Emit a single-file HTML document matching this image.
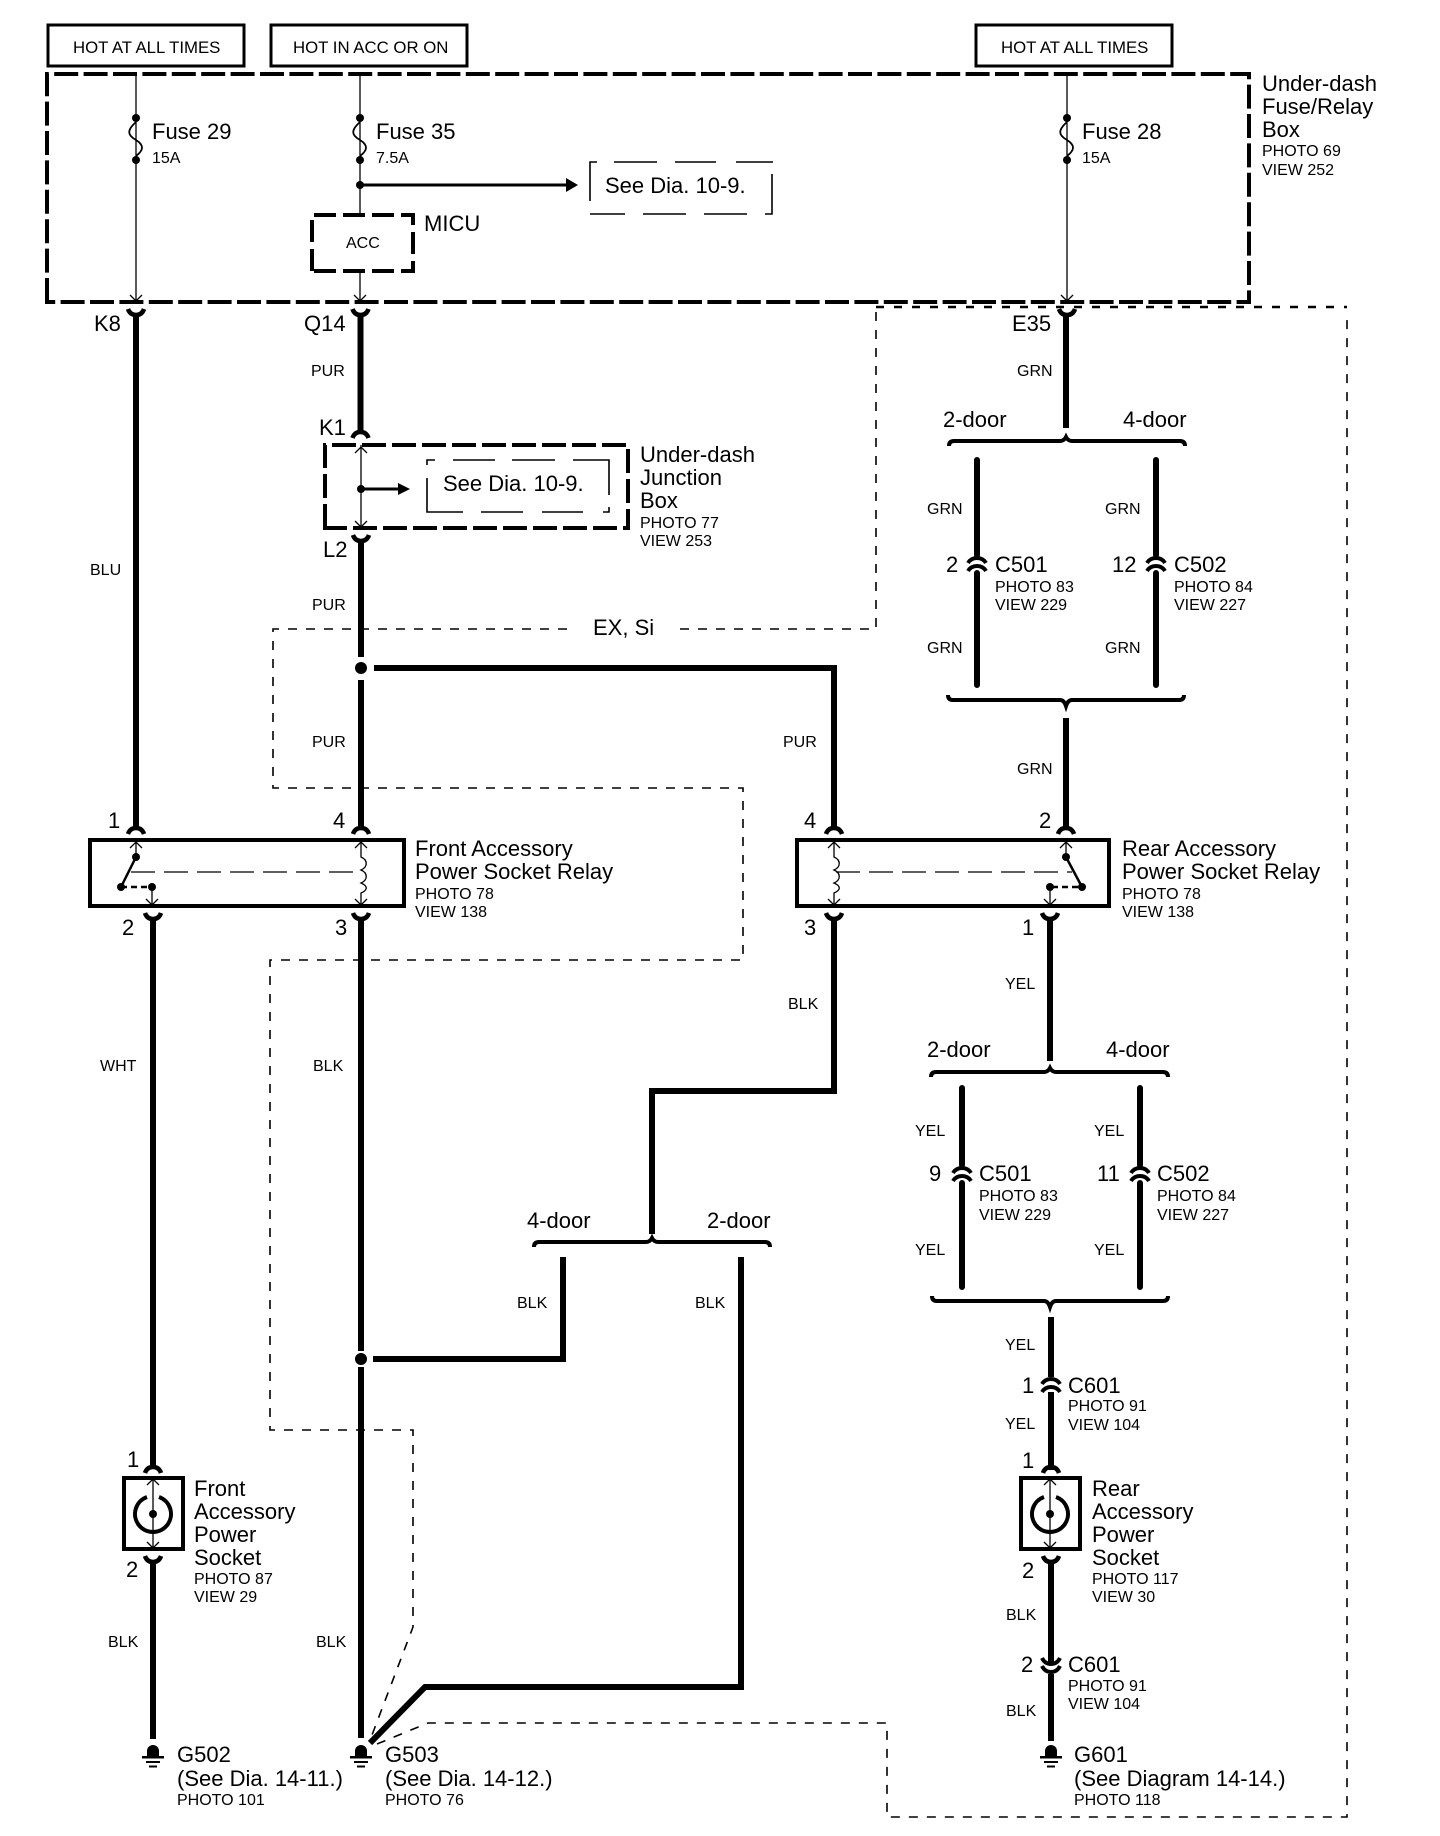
<!DOCTYPE html>
<html>
<head>
<meta charset="utf-8">
<title>Accessory Power Socket Circuit</title>
<style>
html,body{margin:0;padding:0;background:#fff;}
svg{display:block;}
text{font-family:"Liberation Sans",Arial,sans-serif;fill:#000;}
.b{font-size:22px;}
.s{font-size:16px;}
.h{font-size:16.8px;}
.w{fill:none;stroke:#000;stroke-width:6;}
.t{fill:none;stroke:#000;stroke-width:1.3;}
.d{fill:none;stroke:#000;stroke-width:1.6;stroke-dasharray:9 9;}
.dt{fill:none;stroke:#000;stroke-width:2.5;stroke-dasharray:8 10;}
.sd{fill:none;stroke:#000;stroke-width:1.6;}
.o{fill:none;stroke:#000;stroke-width:4;stroke-dasharray:24 5.400;}
.br{fill:none;stroke:#000;stroke-width:4;}
</style>
</head>
<body>
<svg width="1440" height="1836" viewBox="0 0 1440 1836" xmlns="http://www.w3.org/2000/svg">
<defs>
<g id="m"><path d="M-8 7 Q-6 1 0 1 Q6 1 8 7" fill="none" stroke="#000" stroke-width="4.5"/></g>
<g id="f"><path d="M-8 0 Q-6 6 0 6 Q6 6 8 0" fill="none" stroke="#000" stroke-width="4.5"/></g>
<g id="au"><path d="M-6 7 L0 1 L6 7" fill="none" stroke="#000" stroke-width="1.3"/></g>
<g id="ad"><path d="M-6 -7 L0 -1 L6 -7" fill="none" stroke="#000" stroke-width="1.3"/></g>
<g id="fz"><circle cx="0" cy="118" r="4"/><circle cx="0" cy="160" r="4"/><path d="M0 122 C-9 130 -9 135 0 140 C8 145 8 150 0 156" fill="none" stroke="#000" stroke-width="1.8"/></g>
<g id="gnd"><path d="M-6 7 V2 A6 6 0 0 1 6 2 V7 Z"/><rect x="-11" y="7" width="22" height="2.5"/><rect x="-7" y="12" width="14" height="2"/><rect x="-4" y="16.500" width="8" height="2"/></g>
<g id="ms"><path d="M-9 -3 Q-6 -8 0 -8 Q6 -8 9 -3" fill="none" stroke="#000" stroke-width="4"/></g>
<g id="sock"><rect x="-29" y="-36" width="59" height="71" fill="#fff" stroke="#000" stroke-width="4"/><path d="M-6 -16 A18 18 0 1 0 6 -16" fill="none" stroke="#000" stroke-width="4" transform="translate(0,-1)"/><circle cx="0" cy="0" r="4"/><path d="M0 -36 V35" class="t"/><path d="M-6 -29 L0 -35 L6 -29 M-6 28 L0 34 L6 28" class="t"/></g>
</defs>

<!-- top source boxes -->
<rect x="48" y="25" width="196" height="41" fill="none" stroke="#000" stroke-width="3"/>
<rect x="271" y="25" width="196" height="41" fill="none" stroke="#000" stroke-width="3"/>
<rect x="976" y="25" width="196" height="41" fill="none" stroke="#000" stroke-width="3"/>
<text class="h" x="73" y="53">HOT AT ALL TIMES</text>
<text class="h" x="293" y="53">HOT IN ACC OR ON</text>
<text class="h" x="1001" y="53">HOT AT ALL TIMES</text>

<!-- outer fuse box -->
<path class="o" d="M47 302 V74 H1249 V302 Z"/>
<text class="b" x="1262" y="91">Under-dash</text>
<text class="b" x="1262" y="114">Fuse/Relay</text>
<text class="b" x="1262" y="137">Box</text>
<text class="s" x="1262" y="156">PHOTO 69</text>
<text class="s" x="1262" y="175">VIEW 252</text>

<!-- thin fuse wires -->
<path class="t" d="M136 74 V302 M360 74 V215 M360 271 V302 M1067 74 V302"/>
<use href="#fz" x="136" y="0"/><use href="#fz" x="360" y="0"/><use href="#fz" x="1067" y="0"/>
<use href="#ad" x="136" y="302"/><use href="#ad" x="360" y="302"/><use href="#ad" x="1067" y="302"/>
<text class="b" x="152" y="139">Fuse 29</text><text class="s" x="152" y="163">15A</text>
<text class="b" x="376" y="139">Fuse 35</text><text class="s" x="376" y="163">7.5A</text>
<text class="b" x="1082" y="139">Fuse 28</text><text class="s" x="1082" y="163">15A</text>

<!-- see dia top -->
<circle cx="360" cy="185" r="4"/>
<path d="M360 185 H568" fill="none" stroke="#000" stroke-width="3"/>
<path d="M566 178 L578 185 L566 192 Z"/>
<path class="sd" d="M590 201 V162 H597 M614 162 H657 M675 162 H716 M736 162 H773 M772 174 V214 H765 M747 214 H704 M686 214 H643 M625 214 H590"/>
<text class="b" x="605" y="193">See Dia. 10-9.</text>

<!-- MICU -->
<path d="M312 271 V215 H413 V271 Z" fill="none" stroke="#000" stroke-width="4" stroke-dasharray="22 7"/>
<text class="s" x="346" y="248">ACC</text>
<text class="b" x="424" y="231">MICU</text>

<!-- thin dashed option boxes -->
<path class="dt" d="M876 307 H1347"/>
<path class="d" d="M876 312 V629 H672 M567 629 H273 V788 H743 V960 H270 V1430 H413 V1627 L372 1735"/>
<path class="d" d="M377 1744 L428 1723 H887 V1817 H1347 V312"/>
<text class="b" x="593" y="635">EX, Si</text>

<!-- K8 wire -->
<path class="w" d="M136 314 V830"/>
<use href="#f" x="136" y="309"/>
<text class="b" x="94" y="331">K8</text>
<text class="s" x="90" y="575">BLU</text>

<!-- Q14 wire -->
<path class="w" d="M360.500 314 V434"/>
<use href="#f" x="360.500" y="309"/>
<use href="#m" x="360.500" y="431"/>
<text class="b" x="304" y="331">Q14</text>
<text class="s" x="311" y="376">PUR</text>
<text class="b" x="319" y="435">K1</text>

<!-- junction box -->
<path d="M325 528 V445 H628 V528 Z" fill="none" stroke="#000" stroke-width="4" stroke-dasharray="24 6"/>
<path class="t" d="M361 445 V528"/>
<use href="#au" x="361" y="446"/><use href="#ad" x="361" y="528"/>
<circle cx="361" cy="489" r="4"/>
<path d="M361 489 H400" fill="none" stroke="#000" stroke-width="3"/>
<path d="M398 483 L410 489 L398 495 Z"/>
<path class="sd" d="M427 465 V460 H435 M453 460 H495 M512 460 H555 M573 460 H609 V495 M609 507 V512 H603 M583 512 H542 M523 512 H481 M463 512 H427 V478"/>
<text class="b" x="443" y="491">See Dia. 10-9.</text>
<text class="b" x="640" y="462">Under-dash</text>
<text class="b" x="640" y="485">Junction</text>
<text class="b" x="640" y="508">Box</text>
<text class="s" x="640" y="528">PHOTO 77</text>
<text class="s" x="640" y="546">VIEW 253</text>

<use href="#f" x="361" y="535"/>
<text class="b" x="323" y="557">L2</text>
<path class="w" d="M361 540 V657 M361 680 V830"/>
<text class="s" x="312" y="610">PUR</text>
<circle cx="361" cy="668" r="6"/>
<path class="w" d="M374 668 H834 V830"/>
<text class="s" x="312" y="747">PUR</text>
<text class="s" x="783" y="747">PUR</text>

<!-- front relay -->
<use href="#m" x="136" y="827"/><use href="#m" x="361" y="827"/>
<text class="b" x="108" y="828">1</text><text class="b" x="333" y="828">4</text>
<rect x="90" y="840" width="314" height="66" fill="none" stroke="#000" stroke-width="4"/>
<path class="t" d="M136 840 V857 M152 887 V906 M361 840 V857 C368 860 368 867 361 870 C368 873 368 880 361 883 C368 886 368 890 361 893 V906"/>
<use href="#au" x="136" y="841"/><use href="#ad" x="152" y="906"/>
<use href="#au" x="361" y="841"/><use href="#ad" x="361" y="906"/>
<circle cx="136" cy="857" r="4"/><circle cx="121" cy="887" r="4"/><circle cx="152" cy="887" r="4"/>
<path d="M136 857 L121 887" fill="none" stroke="#000" stroke-width="2.500"/>
<path d="M121 887 H150" fill="none" stroke="#000" stroke-width="2.500" stroke-dasharray="6 4"/>
<path d="M131 872 H360" fill="none" stroke="#000" stroke-width="1.3" stroke-dasharray="24 9"/>
<use href="#f" x="153" y="913"/><use href="#f" x="361" y="913"/>
<text class="b" x="122" y="935">2</text><text class="b" x="335" y="935">3</text>
<text class="b" x="415" y="856">Front Accessory</text>
<text class="b" x="415" y="879">Power Socket Relay</text>
<text class="s" x="415" y="899">PHOTO 78</text>
<text class="s" x="415" y="917">VIEW 138</text>

<!-- rear relay -->
<use href="#m" x="834" y="827"/><use href="#m" x="1066" y="827"/>
<text class="b" x="804" y="828">4</text><text class="b" x="1039" y="828">2</text>
<rect x="797" y="840" width="312" height="66" fill="none" stroke="#000" stroke-width="4"/>
<path class="t" d="M1066 840 V857 M1050 887 V906 M834 840 V857 C841 860 841 867 834 870 C841 873 841 880 834 883 C841 886 841 890 834 893 V906"/>
<use href="#au" x="1066" y="841"/><use href="#ad" x="1050" y="906"/>
<use href="#au" x="834" y="841"/><use href="#ad" x="834" y="906"/>
<circle cx="1066" cy="857" r="4"/><circle cx="1082" cy="887" r="4"/><circle cx="1050" cy="887" r="4"/>
<path d="M1066 857 L1082 887" fill="none" stroke="#000" stroke-width="2.500"/>
<path d="M1052 887 H1082" fill="none" stroke="#000" stroke-width="2.500" stroke-dasharray="6 4"/>
<path d="M836 872 H1072" fill="none" stroke="#000" stroke-width="1.3" stroke-dasharray="24 9"/>
<use href="#f" x="834" y="913"/><use href="#f" x="1050" y="913"/>
<text class="b" x="804" y="935">3</text><text class="b" x="1022" y="935">1</text>
<text class="b" x="1122" y="856">Rear Accessory</text>
<text class="b" x="1122" y="879">Power Socket Relay</text>
<text class="s" x="1122" y="899">PHOTO 78</text>
<text class="s" x="1122" y="917">VIEW 138</text>

<!-- E35 / upper GRN -->
<use href="#f" x="1067" y="309"/>
<path class="w" d="M1066 314 V428"/>
<text class="b" x="1012" y="331">E35</text>
<text class="s" x="1017" y="376">GRN</text>
<text class="b" x="943" y="427">2-door</text>
<text class="b" x="1123" y="427">4-door</text>
<path class="br" d="M949 446 Q949 441 954 441 H1060 Q1064 441 1066 437 Q1068 441 1072 441 H1180 Q1185 441 1185 446"/>
<path class="w" stroke-linecap="round" d="M977 460 V555 M977 573 V685 M1156 460 V555 M1156 573 V685"/>
<use href="#ms" x="977" y="566"/><use href="#ms" x="1156" y="566"/>
<use href="#ms" x="977" y="574"/><use href="#ms" x="1156" y="574"/>
<text class="s" x="927" y="514">GRN</text><text class="s" x="1105" y="514">GRN</text>
<text class="s" x="927" y="653">GRN</text><text class="s" x="1105" y="653">GRN</text>
<text class="b" x="946" y="572">2</text><text class="b" x="1112" y="572">12</text>
<text class="b" x="995" y="572">C501</text><text class="s" x="995" y="592">PHOTO 83</text><text class="s" x="995" y="610">VIEW 229</text>
<text class="b" x="1174" y="572">C502</text><text class="s" x="1174" y="592">PHOTO 84</text><text class="s" x="1174" y="610">VIEW 227</text>
<path class="br" d="M948 695 Q948 700 953 700 H1060 Q1064 700 1066 706 Q1068 700 1072 700 H1179 Q1184 700 1184 695"/>
<path class="w" d="M1066 718 V830"/>
<text class="s" x="1017" y="774">GRN</text>

<!-- WHT, front socket -->
<path class="w" d="M153 918 V1468"/>
<text class="s" x="100" y="1071">WHT</text>
<use href="#m" x="153" y="1466"/>
<text class="b" x="127" y="1467">1</text>
<use href="#sock" x="153" y="1514"/>
<use href="#f" x="153" y="1556"/>
<text class="b" x="126" y="1577">2</text>
<text class="b" x="194" y="1496">Front</text>
<text class="b" x="194" y="1519">Accessory</text>
<text class="b" x="194" y="1542">Power</text>
<text class="b" x="194" y="1565">Socket</text>
<text class="s" x="194" y="1584">PHOTO 87</text>
<text class="s" x="194" y="1602">VIEW 29</text>
<path class="w" d="M153 1560 V1739"/>
<text class="s" x="108" y="1647">BLK</text>
<use href="#gnd" x="153" y="1749"/>
<text class="b" x="177" y="1762">G502</text>
<text class="b" x="177" y="1786">(See Dia. 14-11.)</text>
<text class="s" x="177" y="1805">PHOTO 101</text>

<!-- center BLK -->
<path class="w" d="M361 918 V1351 M361 1367 V1738"/>
<text class="s" x="313" y="1071">BLK</text>
<text class="s" x="316" y="1647">BLK</text>
<circle cx="361" cy="1359" r="6"/>
<path class="w" d="M373 1359 H563 V1257"/>
<path class="w" d="M741 1257 V1687 H425 L370 1743"/>
<use href="#gnd" x="361" y="1749"/>
<text class="b" x="385" y="1762">G503</text>
<text class="b" x="385" y="1786">(See Dia. 14-12.)</text>
<text class="s" x="385" y="1805">PHOTO 76</text>

<!-- rear relay pin 3 down -->
<path class="w" d="M834 918 V1091 H652 V1234"/>
<text class="s" x="788" y="1009">BLK</text>
<text class="b" x="527" y="1228">4-door</text>
<text class="b" x="707" y="1228">2-door</text>
<path class="br" d="M534 1247 Q534 1242 539 1242 H646 Q650 1242 652 1238 Q654 1242 658 1242 H765 Q770 1242 770 1247"/>
<text class="s" x="517" y="1308">BLK</text>
<text class="s" x="695" y="1308">BLK</text>

<!-- YEL section -->
<path class="w" d="M1050 918 V1061"/>
<text class="s" x="1005" y="989">YEL</text>
<text class="b" x="927" y="1057">2-door</text>
<text class="b" x="1106" y="1057">4-door</text>
<path class="br" d="M931 1077 Q931 1072 936 1072 H1044 Q1048 1072 1050 1068 Q1052 1072 1056 1072 H1163 Q1168 1072 1168 1077"/>
<path class="w" stroke-linecap="round" d="M962 1088 V1165 M962 1183 V1287 M1140 1088 V1165 M1140 1183 V1287"/>
<use href="#ms" x="962" y="1176"/><use href="#ms" x="1140" y="1176"/>
<use href="#ms" x="962" y="1184"/><use href="#ms" x="1140" y="1184"/>
<text class="s" x="915" y="1136">YEL</text><text class="s" x="1094" y="1136">YEL</text>
<text class="s" x="915" y="1255">YEL</text><text class="s" x="1094" y="1255">YEL</text>
<text class="b" x="929" y="1181">9</text><text class="b" x="1097" y="1181">11</text>
<text class="b" x="979" y="1181">C501</text><text class="s" x="979" y="1201">PHOTO 83</text><text class="s" x="979" y="1220">VIEW 229</text>
<text class="b" x="1157" y="1181">C502</text><text class="s" x="1157" y="1201">PHOTO 84</text><text class="s" x="1157" y="1220">VIEW 227</text>
<path class="br" d="M932 1296 Q932 1301 937 1301 H1044 Q1048 1301 1050 1307 Q1052 1301 1056 1301 H1163 Q1168 1301 1168 1296"/>

<path class="w" d="M1051 1317 V1377 M1051 1392 V1470"/>
<use href="#ms" x="1051" y="1387"/><use href="#ms" x="1051" y="1395"/>
<text class="s" x="1005" y="1350">YEL</text>
<text class="b" x="1022" y="1393">1</text>
<text class="b" x="1068" y="1393">C601</text>
<text class="s" x="1068" y="1411">PHOTO 91</text>
<text class="s" x="1068" y="1430">VIEW 104</text>
<text class="s" x="1005" y="1429">YEL</text>
<text class="b" x="1022" y="1468">1</text>
<use href="#m" x="1051" y="1466"/>
<use href="#sock" x="1050" y="1514"/>
<use href="#f" x="1051" y="1556"/>
<text class="b" x="1022" y="1578">2</text>
<text class="b" x="1092" y="1496">Rear</text>
<text class="b" x="1092" y="1519">Accessory</text>
<text class="b" x="1092" y="1542">Power</text>
<text class="b" x="1092" y="1565">Socket</text>
<text class="s" x="1092" y="1584">PHOTO 117</text>
<text class="s" x="1092" y="1602">VIEW 30</text>
<path class="w" d="M1051 1562 V1664 M1051 1674 V1741"/>
<text class="s" x="1006" y="1620">BLK</text>
<path d="M1042 1658 Q1045 1664 1051 1664 Q1057 1664 1060 1658 M1042 1666 Q1045 1672 1051 1672 Q1057 1672 1060 1666" fill="none" stroke="#000" stroke-width="4"/>
<text class="b" x="1021" y="1672">2</text>
<text class="b" x="1068" y="1672">C601</text>
<text class="s" x="1068" y="1691">PHOTO 91</text>
<text class="s" x="1068" y="1709">VIEW 104</text>
<text class="s" x="1006" y="1716">BLK</text>
<use href="#gnd" x="1051" y="1749"/>
<text class="b" x="1074" y="1762">G601</text>
<text class="b" x="1074" y="1786">(See Diagram 14-14.)</text>
<text class="s" x="1074" y="1805">PHOTO 118</text>
</svg>
</body>
</html>
